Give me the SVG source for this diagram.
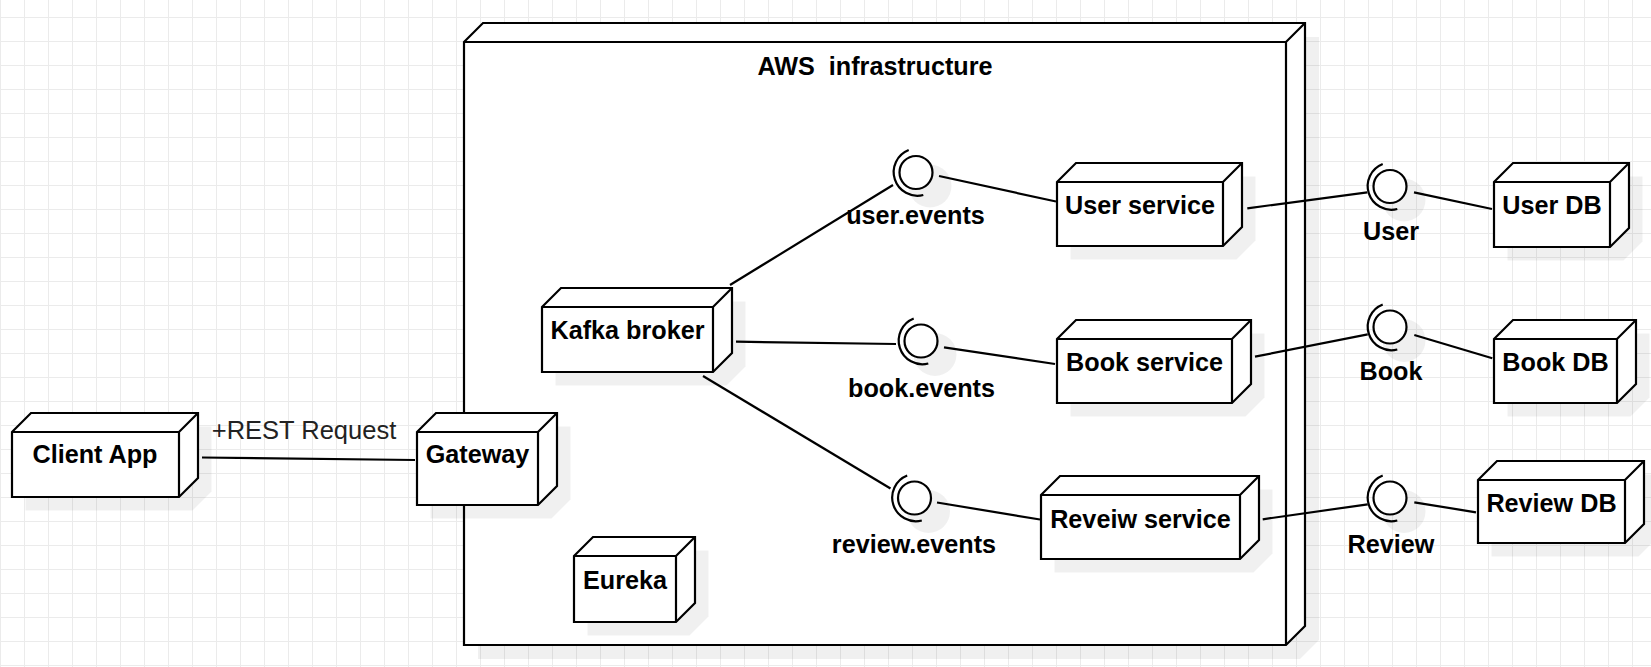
<svg xmlns="http://www.w3.org/2000/svg" xmlns:xlink="http://www.w3.org/1999/xlink" width="1651" height="667" viewBox="0 0 1651 667">
<style>
.box{fill:#fff;stroke:#000;stroke-width:2.2;stroke-linejoin:miter}
.inner{fill:none;stroke:#000;stroke-width:2.2}
.shadow{fill:#000;fill-opacity:0.06;stroke:none}
.lbl{font-family:"Liberation Sans",Arial,Helvetica,sans-serif;font-weight:bold;font-size:25.2px;text-anchor:middle;fill:#000}
.elbl{font-family:"Liberation Sans",Arial,Helvetica,sans-serif;font-size:25.5px;text-anchor:middle;fill:#222}
.conn{fill:none;stroke:#000;stroke-width:2.2}
.ball{fill:#fff;stroke:#000;stroke-width:2.2}
.sock{fill:none;stroke:#000;stroke-width:2.2}
.ishadow{fill:#000;fill-opacity:0.06}
</style>
<defs>
<pattern id="grid" patternUnits="userSpaceOnUse" x="0" y="17" width="24" height="24">
<path d="M0 0.5H24M0.5 0V24" fill="none" stroke="#ebebeb" stroke-width="1"/>
</pattern>
<path id="o-aws" d="M464,42 L483,23 L1305,23 L1305,626 L1286,645 L464,645 Z"/>
<path id="o-client" d="M12,432 L31,413 L198,413 L198,478 L179,497 L12,497 Z"/>
<path id="o-gateway" d="M417,432 L436,413 L557,413 L557,486 L538,505 L417,505 Z"/>
<path id="o-kafka" d="M542,307 L561,288 L732,288 L732,353 L713,372 L542,372 Z"/>
<path id="o-eureka" d="M574,556 L593,537 L695,537 L695,603 L676,622 L574,622 Z"/>
<path id="o-usersvc" d="M1057,182 L1076,163 L1242,163 L1242,227 L1223,246 L1057,246 Z"/>
<path id="o-booksvc" d="M1057,339 L1076,320 L1251,320 L1251,384 L1232,403 L1057,403 Z"/>
<path id="o-reviewsvc" d="M1041,495 L1060,476 L1259,476 L1259,540 L1240,559 L1041,559 Z"/>
<path id="o-userdb" d="M1494,182 L1513,163 L1629,163 L1629,228 L1610,247 L1494,247 Z"/>
<path id="o-bookdb" d="M1494,339 L1513,320 L1636,320 L1636,384 L1617,403 L1494,403 Z"/>
<path id="o-reviewdb" d="M1478,480 L1497,461 L1644,461 L1644,524 L1625,543 L1478,543 Z"/>
<g id="iface">
<circle class="ishadow" cx="14" cy="13.5" r="21.5"/>
<circle class="ball" cx="0" cy="0" r="16.5"/>
<path class="sock" d="M7.3,22.5 A23.7,23.7 0 0 1 -7.3,-22.5"/>
</g>
</defs>
<rect width="1651" height="667" fill="#fff"/>
<rect width="1651" height="667" fill="url(#grid)"/>

<g id="aws">
<use href="#o-aws" class="shadow" transform="translate(14,14)"/>
<use href="#o-aws" class="box"/>
<path class="inner" d="M464,42 L1286,42 L1305,23 M1286,42 L1286,645"/>
<text class="lbl" x="875" y="75" xml:space="preserve">AWS  infrastructure</text>
</g>

<g id="client-app">
<use href="#o-client" class="shadow" transform="translate(13.5,13.5)"/>
<use href="#o-client" class="box"/>
<path class="inner" d="M12,432 L179,432 L198,413 M179,432 L179,497"/>
<text class="lbl" x="95" y="463">Client App</text>
</g>

<g id="gateway">
<use href="#o-gateway" class="shadow" transform="translate(13.5,13.5)"/>
<use href="#o-gateway" class="box"/>
<path class="inner" d="M417,432 L538,432 L557,413 M538,432 L538,505"/>
<text class="lbl" x="477.5" y="463">Gateway</text>
</g>

<g id="kafka-broker">
<use href="#o-kafka" class="shadow" transform="translate(13.5,13.5)"/>
<use href="#o-kafka" class="box"/>
<path class="inner" d="M542,307 L713,307 L732,288 M713,307 L713,372"/>
<text class="lbl" x="627.5" y="339">Kafka broker</text>
</g>

<g id="eureka">
<use href="#o-eureka" class="shadow" transform="translate(13.5,13.5)"/>
<use href="#o-eureka" class="box"/>
<path class="inner" d="M574,556 L676,556 L695,537 M676,556 L676,622"/>
<text class="lbl" x="625" y="589">Eureka</text>
</g>

<g id="user-service">
<use href="#o-usersvc" class="shadow" transform="translate(13.5,13.5)"/>
<use href="#o-usersvc" class="box"/>
<path class="inner" d="M1057,182 L1223,182 L1242,163 M1223,182 L1223,246"/>
<text class="lbl" x="1140" y="213.5">User service</text>
</g>

<g id="book-service">
<use href="#o-booksvc" class="shadow" transform="translate(13.5,13.5)"/>
<use href="#o-booksvc" class="box"/>
<path class="inner" d="M1057,339 L1232,339 L1251,320 M1232,339 L1232,403"/>
<text class="lbl" x="1144.5" y="371">Book service</text>
</g>

<g id="reveiw-service">
<use href="#o-reviewsvc" class="shadow" transform="translate(13.5,13.5)"/>
<use href="#o-reviewsvc" class="box"/>
<path class="inner" d="M1041,495 L1240,495 L1259,476 M1240,495 L1240,559"/>
<text class="lbl" x="1140.5" y="527.5">Reveiw service</text>
</g>

<g id="user-db">
<use href="#o-userdb" class="shadow" transform="translate(13.5,13.5)"/>
<use href="#o-userdb" class="box"/>
<path class="inner" d="M1494,182 L1610,182 L1629,163 M1610,182 L1610,247"/>
<text class="lbl" x="1552" y="214">User DB</text>
</g>

<g id="book-db">
<use href="#o-bookdb" class="shadow" transform="translate(13.5,13.5)"/>
<use href="#o-bookdb" class="box"/>
<path class="inner" d="M1494,339 L1617,339 L1636,320 M1617,339 L1617,403"/>
<text class="lbl" x="1555.5" y="370.5">Book DB</text>
</g>

<g id="review-db">
<use href="#o-reviewdb" class="shadow" transform="translate(13.5,13.5)"/>
<use href="#o-reviewdb" class="box"/>
<path class="inner" d="M1478,480 L1625,480 L1644,461 M1625,480 L1625,543"/>
<text class="lbl" x="1551.5" y="511.5">Review DB</text>
</g>

<g id="if-user-events">
<use href="#iface" transform="translate(916,172.5)"/>
<text class="lbl" x="915.5" y="224">user.events</text>
</g>
<g id="if-book-events">
<use href="#iface" transform="translate(921,341)"/>
<text class="lbl" x="921.5" y="396.5">book.events</text>
</g>
<g id="if-review-events">
<use href="#iface" transform="translate(914.5,498)"/>
<text class="lbl" x="914" y="553">review.events</text>
</g>
<g id="if-user">
<use href="#iface" transform="translate(1390,186.5)"/>
<text class="lbl" x="1391" y="240">User</text>
</g>
<g id="if-book">
<use href="#iface" transform="translate(1390,327)"/>
<text class="lbl" x="1391" y="380">Book</text>
</g>
<g id="if-review">
<use href="#iface" transform="translate(1390,498)"/>
<text class="lbl" x="1391" y="552.5">Review</text>
</g>

<g id="connectors">
<line class="conn" x1="202" y1="457.5" x2="415" y2="460"/>
<text class="elbl" x="304" y="439">+REST Request</text>
<line class="conn" x1="730" y1="285" x2="893" y2="185"/>
<line class="conn" x1="736" y1="341.7" x2="896" y2="344"/>
<line class="conn" x1="703" y1="376" x2="890.5" y2="488.5"/>
<line class="conn" x1="939" y1="176" x2="1056" y2="201.5"/>
<line class="conn" x1="944" y1="347.3" x2="1055" y2="364"/>
<line class="conn" x1="937" y1="502.5" x2="1040" y2="519.5"/>
<line class="conn" x1="1247.3" y1="208.3" x2="1367.3" y2="192.3"/>
<line class="conn" x1="1414" y1="192.3" x2="1492" y2="209"/>
<line class="conn" x1="1255" y1="356.7" x2="1367.7" y2="334.3"/>
<line class="conn" x1="1414.3" y1="335" x2="1492.3" y2="358.3"/>
<line class="conn" x1="1262.7" y1="519.3" x2="1367.7" y2="504.3"/>
<line class="conn" x1="1414.3" y1="502.3" x2="1476" y2="512.3"/>
</g>
</svg>
